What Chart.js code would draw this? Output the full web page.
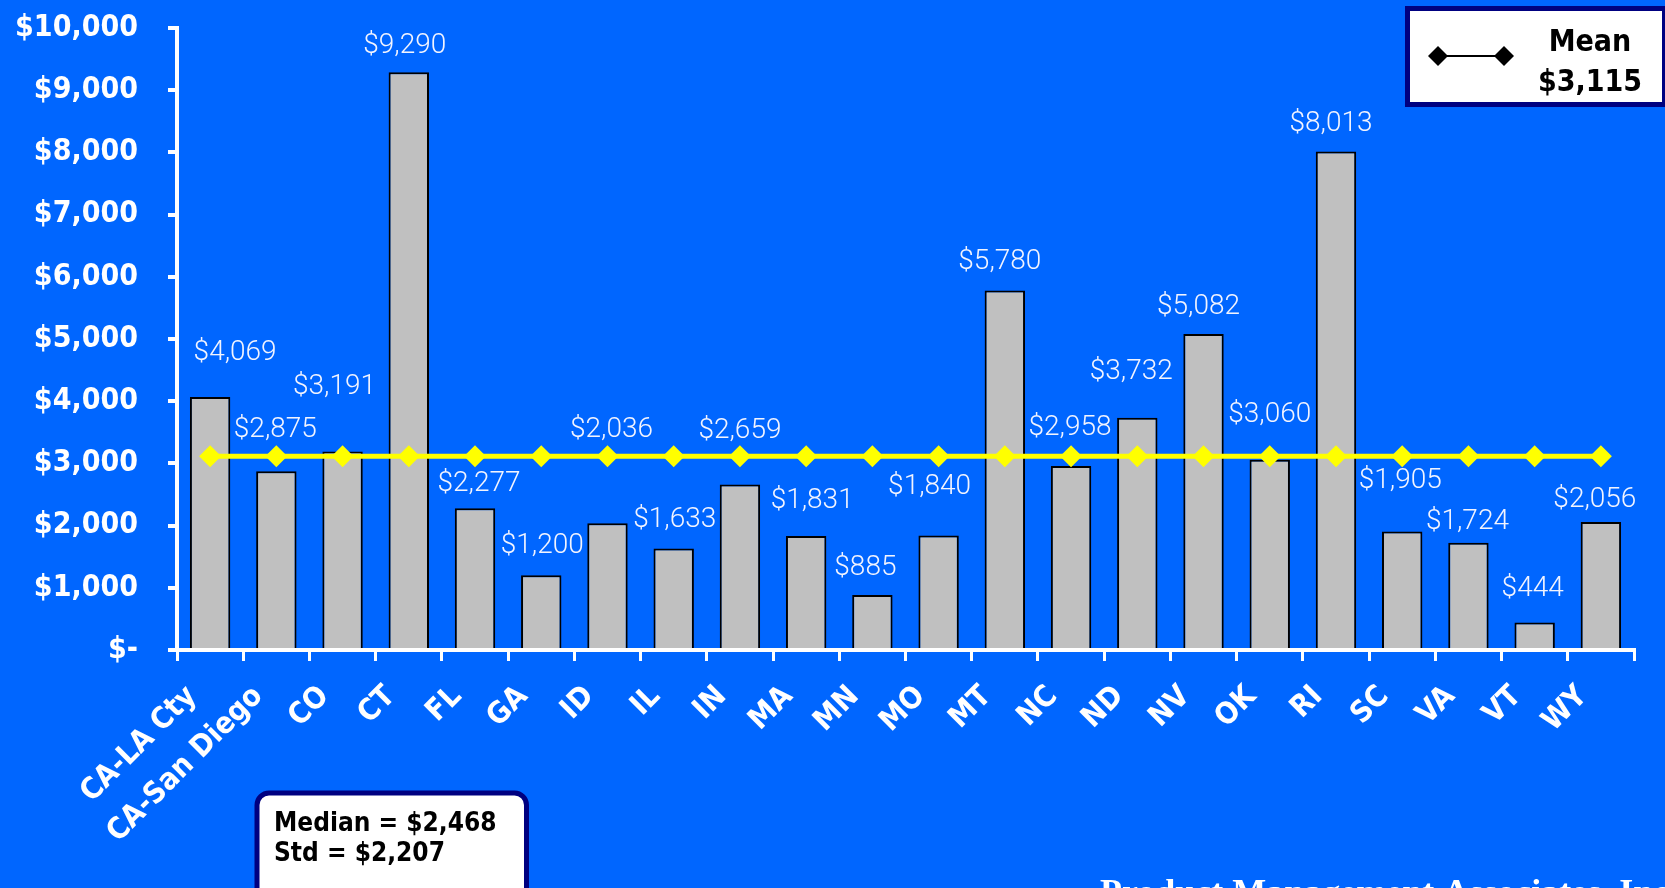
<!DOCTYPE html>
<html>
<head>
<meta charset="utf-8">
<title>Cost by state</title>
<script src="https://cdn.jsdelivr.net/npm/chart.js@4.4.1/dist/chart.umd.min.js"></script>
<style>
  html, body { margin: 0; padding: 0; background: #0066FF; overflow: hidden; }
  #wrap { width: 1665px; height: 888px; position: relative; }
</style>
</head>
<body>
<div id="wrap"><canvas id="chart" width="1665" height="888"></canvas></div>
<script>
// Chart data
const categories = ['CA-LA Cty', 'CA-San Diego', 'CO', 'CT', 'FL', 'GA', 'ID', 'IL', 'IN', 'MA', 'MN',
                    'MO', 'MT', 'NC', 'ND', 'NV', 'OK', 'RI', 'SC', 'VA', 'VT', 'WY'];
const costs = [4069, 2875, 3191, 9290, 2277, 1200, 2036, 1633, 2659, 1831, 885,
               1840, 5780, 2958, 3732, 5082, 3060, 8013, 1905, 1724, 444, 2056];
const meanLine = [3115, 3115, 3115, 3115, 3115, 3115, 3115, 3115, 3115, 3115, 3115,
                  3115, 3115, 3115, 3115, 3115, 3115, 3115, 3115, 3115, 3115, 3115];
const yTickLabels = ['$-', '$1,000', '$2,000', '$3,000', '$4,000', '$5,000',
                     '$6,000', '$7,000', '$8,000', '$9,000', '$10,000'];
const meanText = '$3,115';
const statLines = ['Median = $2,468', 'Std = $2,207'];
const footerText = 'Product Management Associates, Inc.';

// hand placed value labels in the original, nudge from bar top (px)
const labelNudge = [[25, -44], [-1, -41], [-8, -65], [-4, -26], [4, -24], [1, -29], [4, -93],
                    [1, -28], [0, -54], [6, -35], [-7, -27], [-9, -49], [-5, -28], [-1, -38],
                    [-6, -46], [-5, -27], [0, -45], [-5, -28], [-2, -51], [-1, -21], [-2, -33], [-6, -22]];

const boldFont = "'DejaVu Sans Condensed', 'DejaVu Sans', sans-serif";
const fmt = v => '$' + v.toLocaleString('en-US');

// value labels above the bars
const valueLabels = {
    id: 'valueLabels',
    afterDatasetsDraw(chart) {
        const ctx = chart.ctx;
        const meta = chart.getDatasetMeta(1); // the bar dataset
        ctx.save();
        ctx.font = "300 28px Roboto, sans-serif";
        ctx.fillStyle = '#F2F4FF';
        ctx.textAlign = 'center';
        ctx.textBaseline = 'middle';
        meta.data.forEach((bar, i) => {
            const n = labelNudge[i];
            ctx.fillText(fmt(costs[i]), bar.x + n[0], bar.y + n[1]);
        });
        ctx.restore();
    }
};

// legend box, stats box and footer
const overlays = {
    id: 'overlays',
    afterDraw(chart) {
        const ctx = chart.ctx;
        ctx.save();

        // mean legend
        ctx.fillStyle = '#FFFFFF';
        ctx.strokeStyle = '#000080';
        ctx.lineWidth = 5;
        ctx.fillRect(1407.5, 8.5, 257, 96);
        ctx.strokeRect(1407.5, 8.5, 257, 96);
        ctx.strokeStyle = '#000000';
        ctx.lineWidth = 2;
        ctx.beginPath();
        ctx.moveTo(1438, 56);
        ctx.lineTo(1504, 56);
        ctx.stroke();
        ctx.fillStyle = '#000000';
        [1438, 1504].forEach(x => {
            ctx.beginPath();
            ctx.moveTo(x - 10, 56);
            ctx.lineTo(x, 46);
            ctx.lineTo(x + 10, 56);
            ctx.lineTo(x, 66);
            ctx.closePath();
            ctx.fill();
        });
        ctx.font = 'bold 30px ' + boldFont;
        ctx.textAlign = 'center';
        ctx.textBaseline = 'alphabetic';
        ctx.fillText('Mean', 1590, 51);
        ctx.fillText(meanText, 1590, 91);

        // median / std box
        ctx.fillStyle = '#FFFFFF';
        ctx.strokeStyle = '#000080';
        ctx.lineWidth = 5;
        ctx.beginPath();
        ctx.roundRect(257, 793, 269.5, 130, 12);
        ctx.fill();
        ctx.stroke();
        ctx.fillStyle = '#000000';
        ctx.font = 'bold 26px ' + boldFont;
        ctx.textAlign = 'left';
        ctx.fillText(statLines[0], 274, 831);
        ctx.fillText(statLines[1], 274, 861);

        // footer, cut by the bottom edge like the original
        ctx.fillStyle = '#FFFFFF';
        ctx.font = "bold 36px 'Liberation Serif', serif";
        ctx.fillText(footerText, 1100, 904);
        ctx.restore();
    }
};

const ctx = document.getElementById('chart').getContext('2d');
const chart = new Chart(ctx, {
    data: {
        labels: categories,
        datasets: [{
            type: 'line',
            label: 'Mean',
            data: meanLine,
            borderColor: '#FFFF00',
            backgroundColor: '#FFFF00',
            borderWidth: 5,
            pointStyle: 'rectRot',
            pointRadius: 11,
            pointBorderWidth: 0,
            pointBackgroundColor: '#FFFF00',
            tension: 0,
            order: 0
        }, {
            type: 'bar',
            label: 'Cost',
            data: costs,
            backgroundColor: '#C0C0C0',
            borderColor: '#000000',
            borderWidth: 2,
            barPercentage: 0.61,
            categoryPercentage: 1.0,
            order: 1
        }]
    },
    options: {
        responsive: false,
        animation: false,
        layout: { padding: { top: 28, right: 31, left: 0, bottom: 0 } },
        plugins: {
            legend: { display: false },
            tooltip: { enabled: false }
        },
        scales: {
            x: {
                offset: true,
                grid: { offset: true, drawOnChartArea: false, tickLength: 11, lineWidth: 3, color: '#FFFFFF' },
                border: { display: true, color: '#FFFFFF', width: 4 },
                ticks: {
                    color: '#FFFFFF',
                    font: { family: boldFont, size: 30, weight: 'bold' },
                    minRotation: 45,
                    maxRotation: 45,
                    autoSkip: false,
                    padding: 18,
                    labelOffset: -18
                },
                afterFit(scale) { scale.height = 238; }
            },
            y: {
                min: 0,
                max: 10000,
                grid: { drawOnChartArea: false, tickLength: 9, lineWidth: 4, color: '#FFFFFF' },
                border: { display: true, color: '#FFFFFF', width: 4 },
                ticks: {
                    stepSize: 1000,
                    color: '#FFFFFF',
                    font: { family: boldFont, size: 30, weight: 'bold' },
                    padding: 30,
                    callback: (value, index) => yTickLabels[index]
                },
                afterFit(scale) {
                    scale.width = 177;
                    scale.paddingTop = 0;
                    scale.paddingBottom = 0;
                }
            }
        }
    },
    plugins: [valueLabels, overlays]
});
</script>
</body>
</html>
